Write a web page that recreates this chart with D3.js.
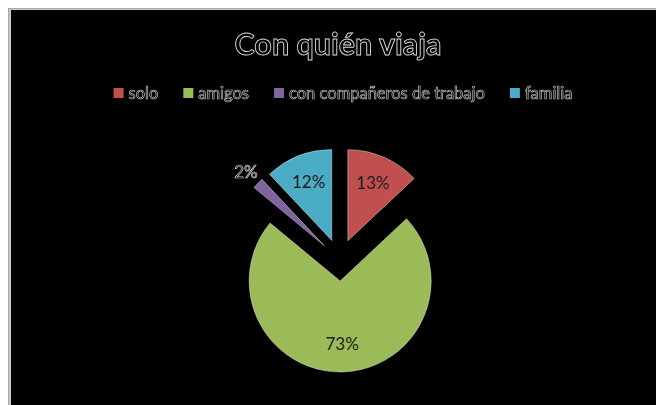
<!DOCTYPE html>
<html><head><meta charset="utf-8">
<script src="https://cdn.jsdelivr.net/npm/d3@7"></script>
<style>html,body{margin:0;padding:0;background:#fff;}svg{display:block;} text.o{filter:grayscale(1);}</style>
</head><body>
<svg id="c" width="656" height="405"></svg>
<script>
const categories = ["solo", "amigos", "con compañeros de trabajo", "familia"];
const values = [13, 73, 2, 12];
const labels = ["13%", "73%", "2%", "12%"];
const colors = ["#C0504D", "#9BBB59", "#8064A2", "#4BACC6"];
const title = "Con quién viaja";

const svg = d3.select("#c");
const W = 656, H = 405;
// frame
svg.append("rect").attr("x", 8).attr("y", 8).attr("width", W - 8).attr("height", H - 8).attr("fill", "#a8a8a8");
svg.append("rect").attr("x", 9).attr("y", 9).attr("width", W - 9).attr("height", H - 9).attr("fill", "#c8c8c8");
svg.append("rect").attr("x", 11).attr("y", 10).attr("width", W - 11).attr("height", H - 10).attr("fill", "#000");

const font = "Lato, 'Open Sans', sans-serif";
svg.append("text").attr("class", "o").attr("x", 338).attr("y", 55).attr("text-anchor", "middle")
  .attr("font-family", font).attr("font-weight", "bold").attr("font-size", 30.5)
  .attr("fill", "#000").attr("stroke", "#dcdcdc").attr("stroke-width", 0.9)
  .text(title);

// legend
const lg = svg.append("g");
let x = 0;
categories.forEach((c, i) => {
  const g = lg.append("g");
  g.append("rect").attr("x", 0).attr("y", -5).attr("width", 10).attr("height", 10).attr("fill", colors[i]);
  const t = g.append("text").attr("class", "o").attr("x", 15).attr("y", 5.5).attr("font-family", font).attr("font-size", 16.5)
    .attr("fill", "#000").attr("stroke", "#bdbdbd").attr("stroke-width", 0.7).text(c);
  const w = 15 + t.node().getComputedTextLength();
  g.attr("transform", `translate(${x},93)`);
  x += w + 25;
});
const totalW = x - 25;
lg.attr("transform", `translate(${343 - totalW / 2},0)`);

// pie
const cx = 339.5, cy = 260, r = 91, explode = 21;
const pie = d3.pie().sort(null).value(d => d)(values);
const arc = d3.arc().innerRadius(0).outerRadius(r);
const pg = svg.append("g").attr("transform", `translate(${cx},${cy})`);
pie.forEach((d, i) => {
  const mid = (d.startAngle + d.endAngle) / 2;
  const ox = Math.sin(mid) * explode, oy = -Math.cos(mid) * explode;
  const g = pg.append("g").attr("transform", `translate(${ox},${oy})`);
  g.append("path").attr("d", arc(d)).attr("fill", colors[i]).attr("stroke", "#fff").attr("stroke-width", 0.4);
  const frac = (d.endAngle - d.startAngle) / (2 * Math.PI);
  const outside = frac < 0.05;
  const lr = outside ? r * 1.18 : r * 0.69;
  const t = g.append("text").attr("x", Math.sin(mid) * lr).attr("y", -Math.cos(mid) * lr + 6)
    .attr("text-anchor", "middle").attr("font-family", font).attr("font-size", 17).text(labels[i]);
  if (outside) t.attr("class", "o").attr("fill", "#000").attr("stroke", "#cfcfcf").attr("stroke-width", 0.7);
  else t.attr("fill", "#1e1e1e");
});
</script>
</body></html>
